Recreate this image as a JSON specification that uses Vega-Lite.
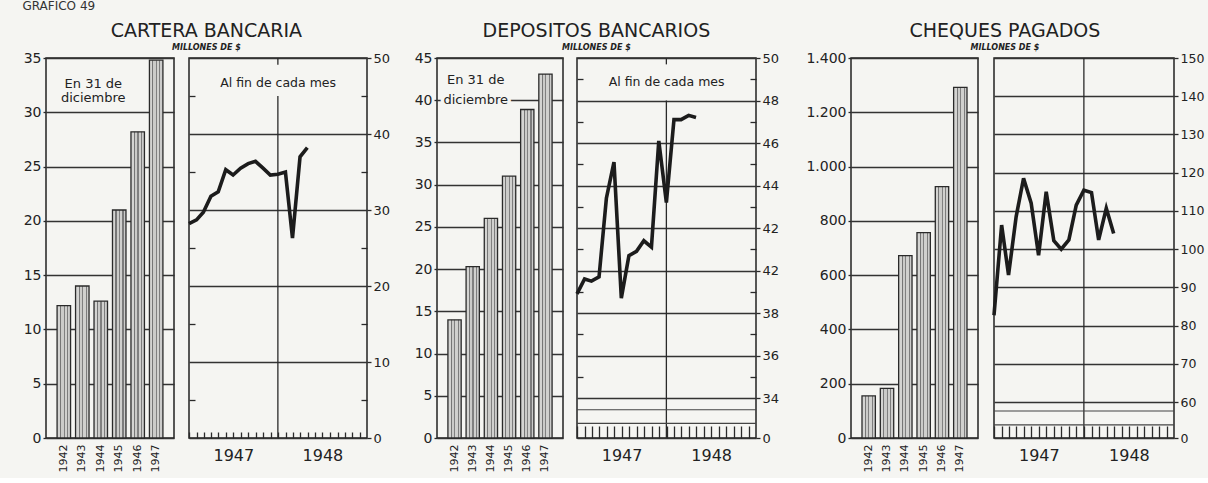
{
  "$schema": "https://vega.github.io/schema/vega-lite/v6.json",
  "background": "#f5f5f2",
  "padding": {"left": 22, "top": 0, "right": 4, "bottom": 5},
  "title": {"text": "GRAFICO 49", "anchor": "start", "fontSize": 12, "font": "DejaVu Sans", "fontWeight": "normal", "color": "#333", "offset": 9},
  "datasets": {
    "cartera_anual": [
      {"anio": "1942", "valor": 12.2}, {"anio": "1943", "valor": 14.0}, {"anio": "1944", "valor": 12.6},
      {"anio": "1945", "valor": 21.0}, {"anio": "1946", "valor": 28.2}, {"anio": "1947", "valor": 34.8}
    ],
    "depositos_anual": [
      {"anio": "1942", "valor": 14.0}, {"anio": "1943", "valor": 20.3}, {"anio": "1944", "valor": 26.0},
      {"anio": "1945", "valor": 31.0}, {"anio": "1946", "valor": 38.9}, {"anio": "1947", "valor": 43.1}
    ],
    "cheques_anual": [
      {"anio": "1942", "valor": 155}, {"anio": "1943", "valor": 183}, {"anio": "1944", "valor": 672},
      {"anio": "1945", "valor": 757}, {"anio": "1946", "valor": 926}, {"anio": "1947", "valor": 1292}
    ],
    "cartera_mensual": [
      {"fecha": "1946-12-31", "valor": 28.2}, {"fecha": "1947-01-31", "valor": 28.7}, {"fecha": "1947-02-28", "valor": 29.7},
      {"fecha": "1947-03-31", "valor": 31.8}, {"fecha": "1947-04-30", "valor": 32.4}, {"fecha": "1947-05-31", "valor": 35.3},
      {"fecha": "1947-06-30", "valor": 34.6}, {"fecha": "1947-07-31", "valor": 35.5}, {"fecha": "1947-08-31", "valor": 36.1},
      {"fecha": "1947-09-30", "valor": 36.4}, {"fecha": "1947-10-31", "valor": 35.5}, {"fecha": "1947-11-30", "valor": 34.6},
      {"fecha": "1947-12-31", "valor": 34.7}, {"fecha": "1948-01-31", "valor": 35.0}, {"fecha": "1948-02-29", "valor": 26.3},
      {"fecha": "1948-03-31", "valor": 37.0}, {"fecha": "1948-04-30", "valor": 38.2}
    ],
    "depositos_mensual": [
      {"fecha": "1946-12-31", "valor": 38.9}, {"fecha": "1947-01-31", "valor": 39.6}, {"fecha": "1947-02-28", "valor": 39.5},
      {"fecha": "1947-03-31", "valor": 39.7}, {"fecha": "1947-04-30", "valor": 43.4}, {"fecha": "1947-05-31", "valor": 45.1},
      {"fecha": "1947-06-30", "valor": 38.7}, {"fecha": "1947-07-31", "valor": 40.7}, {"fecha": "1947-08-31", "valor": 40.9},
      {"fecha": "1947-09-30", "valor": 41.4}, {"fecha": "1947-10-31", "valor": 41.1}, {"fecha": "1947-11-30", "valor": 46.1},
      {"fecha": "1947-12-31", "valor": 43.2}, {"fecha": "1948-01-31", "valor": 47.1}, {"fecha": "1948-02-29", "valor": 47.1},
      {"fecha": "1948-03-31", "valor": 47.3}, {"fecha": "1948-04-30", "valor": 47.2}
    ],
    "cheques_mensual": [
      {"fecha": "1946-12-31", "valor": 82.7}, {"fecha": "1947-01-31", "valor": 106.3}, {"fecha": "1947-02-28", "valor": 93.2},
      {"fecha": "1947-03-31", "valor": 108.5}, {"fecha": "1947-04-30", "valor": 118.5}, {"fecha": "1947-05-31", "valor": 112.0},
      {"fecha": "1947-06-30", "valor": 98.4}, {"fecha": "1947-07-31", "valor": 115.0}, {"fecha": "1947-08-31", "valor": 102.2},
      {"fecha": "1947-09-30", "valor": 100.0}, {"fecha": "1947-10-31", "valor": 102.4}, {"fecha": "1947-11-30", "valor": 111.5},
      {"fecha": "1947-12-31", "valor": 115.4}, {"fecha": "1948-01-31", "valor": 114.8}, {"fecha": "1948-02-29", "valor": 102.4},
      {"fecha": "1948-03-31", "valor": 110.7}, {"fecha": "1948-04-30", "valor": 104.1}
    ]
  },
  "spacing": 0,
  "hconcat": [
    {
      "title": {"text": "CARTERA BANCARIA", "subtitle": "MILLONES DE $"},
      "spacing": 6,
      "hconcat": [
        {
          "width": 128, "height": 380,
          "data": {"name": "cartera_anual"},
          "layer": [
            {
              "mark": {"type": "bar", "stroke": "#2a2a2a", "strokeWidth": 1.3,
                "fill": {"gradient": "linear", "x1": 0, "x2": 1, "y1": 0, "y2": 0,
                  "stops": [{"offset": 0, "color": "#d4d4d2"}, {"offset": 0.22, "color": "#d4d4d2"}, {"offset": 0.22, "color": "#767676"}, {"offset": 0.3, "color": "#767676"}, {"offset": 0.3, "color": "#cbcbc9"}, {"offset": 0.48, "color": "#cbcbc9"}, {"offset": 0.48, "color": "#808080"}, {"offset": 0.56, "color": "#808080"}, {"offset": 0.56, "color": "#d0d0ce"}, {"offset": 0.74, "color": "#d0d0ce"}, {"offset": 0.74, "color": "#7c7c7c"}, {"offset": 0.82, "color": "#7c7c7c"}, {"offset": 0.82, "color": "#cccccb"}, {"offset": 1, "color": "#cccccb"}]}},
              "encoding": {
                "x": {"field": "anio", "type": "ordinal", "scale": {"paddingInner": 0.27, "paddingOuter": 0.6},
                  "axis": {"title": null, "labelAngle": -90, "ticks": false, "domain": false, "labelFontSize": 11, "labelPadding": 6}},
                "y": {"field": "valor", "type": "quantitative", "scale": {"domain": [0, 35], "nice": false},
                  "axis": {"title": null, "values": [0, 5, 10, 15, 20, 25, 30, 35], "grid": true, "tickSize": 3, "domain": false, "labelPadding": 2}}
              }
            },
            {
              "data": {"values": [{}]},
              "mark": {"type": "text", "fontSize": 13, "fontWeight": "normal", "lineHeight": 14, "align": "center", "baseline": "middle", "dx": 11},
              "encoding": {"x": {"datum": "1943"}, "y": {"datum": 32.6}, "text": {"value": ["En 31  de", "diciembre"]}}
            }
          ]
        },
        {
          "width": 178, "height": 380,
          "data": {"name": "cartera_mensual"},
          "resolve": {"axis": {"y": "independent"}},
          "layer": [
            {
              "data": {"values": [{}]},
              "mark": {"type": "rule", "stroke": "#2a2a2a", "strokeWidth": 1.3},
              "encoding": {
                "x": {"datum": {"year": 1947, "month": 12, "date": 31, "utc": true}, "type": "temporal"},
                "y": {"datum": 0, "type": "quantitative", "scale": {"domain": [0, 50], "nice": false},
                  "axis": {"orient": "left", "values": [5, 15, 25, 35, 45], "tickSize": -6, "labels": false, "domain": false, "grid": false, "title": null}},
                "y2": {"datum": 45}
              }
            },
            {
              "data": {"values": [{}]},
              "mark": {"type": "rule", "stroke": "#2a2a2a", "strokeWidth": 1.3},
              "encoding": {
                "x": {"datum": {"year": 1947, "month": 12, "date": 31, "utc": true}, "type": "temporal"},
                "y": {"datum": 49.1, "type": "quantitative", "axis": null},
                "y2": {"datum": 50}
              }
            },
            {
              "data": {"values": [{}]},
              "mark": {"type": "text", "fontSize": 12.5, "fontWeight": "normal"},
              "encoding": {
                "x": {"datum": {"year": 1948, "month": 1, "date": 1, "utc": true}, "type": "temporal"},
                "y": {"datum": 46.7, "type": "quantitative",
                  "axis": {"orient": "right", "values": [5, 15, 25, 35, 45], "tickSize": -6, "labels": false, "domain": false, "grid": false, "title": null}},
                "text": {"value": "Al fin de cada mes"}
              }
            },
            {
              "mark": {"type": "line", "stroke": "#1c1c1c", "strokeWidth": 3.6},
              "encoding": {
                "x": {"field": "fecha", "type": "temporal",
                  "scale": {"type": "utc", "domain": [{"year": 1946, "month": 12, "date": 31, "utc": true}, {"year": 1948, "month": 12, "date": 31, "utc": true}]},
                  "axis": {"title": null, "tickCount": {"interval": "month", "step": 1}, "tickSize": -6, "domain": false, "grid": false, "labelOverlap": false,
                    "labelExpr": "utcmonth(datum.value) == 6 ? utcFormat(datum.value, '%Y') : ''", "labelFontSize": 16, "labelPadding": 15}},
                "y": {"field": "valor", "type": "quantitative",
                  "axis": {"orient": "right", "title": null, "values": [0, 10, 20, 30, 40, 50], "grid": true, "tickSize": 4, "domain": false, "labelPadding": 2, "labelFontSize": 13}}
              }
            }
          ]
        }
      ]
    },
    {
      "width": 22, "height": 380, "data": {"values": []}, "mark": "point", "view": {"stroke": null}
    },
    {
      "title": {"text": "DEPOSITOS BANCARIOS", "subtitle": "MILLONES DE $"},
      "spacing": 5,
      "hconcat": [
        {
          "width": 126, "height": 380,
          "data": {"name": "depositos_anual"},
          "layer": [
            {
              "mark": {"type": "bar", "stroke": "#2a2a2a", "strokeWidth": 1.3,
                "fill": {"gradient": "linear", "x1": 0, "x2": 1, "y1": 0, "y2": 0,
                  "stops": [{"offset": 0, "color": "#d4d4d2"}, {"offset": 0.22, "color": "#d4d4d2"}, {"offset": 0.22, "color": "#767676"}, {"offset": 0.3, "color": "#767676"}, {"offset": 0.3, "color": "#cbcbc9"}, {"offset": 0.48, "color": "#cbcbc9"}, {"offset": 0.48, "color": "#808080"}, {"offset": 0.56, "color": "#808080"}, {"offset": 0.56, "color": "#d0d0ce"}, {"offset": 0.74, "color": "#d0d0ce"}, {"offset": 0.74, "color": "#7c7c7c"}, {"offset": 0.82, "color": "#7c7c7c"}, {"offset": 0.82, "color": "#cccccb"}, {"offset": 1, "color": "#cccccb"}]}},
              "encoding": {
                "x": {"field": "anio", "type": "ordinal", "scale": {"paddingInner": 0.27, "paddingOuter": 0.6},
                  "axis": {"title": null, "labelAngle": -90, "ticks": false, "domain": false, "labelFontSize": 11, "labelPadding": 6}},
                "y": {"field": "valor", "type": "quantitative", "scale": {"domain": [0, 45], "nice": false},
                  "axis": {"title": null, "values": [0, 5, 10, 15, 20, 25, 30, 35, 40, 45], "grid": true, "tickSize": 3, "domain": false, "labelPadding": 2}}
              }
            },
            {
              "data": {"values": [{}]},
              "mark": {"type": "text", "fontSize": 13, "fontWeight": "normal", "lineHeight": 20, "align": "center", "baseline": "middle", "dx": 3, "stroke": "#f5f5f2", "strokeWidth": 7},
              "encoding": {"x": {"datum": "1943"}, "y": {"datum": 42.4}, "text": {"value": ["En 31 de", "diciembre"]}}
            },
            {
              "data": {"values": [{}]},
              "mark": {"type": "text", "fontSize": 13, "fontWeight": "normal", "lineHeight": 20, "align": "center", "baseline": "middle", "dx": 3},
              "encoding": {"x": {"datum": "1943"}, "y": {"datum": 42.4}, "text": {"value": ["En 31 de", "diciembre"]}}
            }
          ]
        },
        {
          "width": 179, "height": 380,
          "data": {"name": "depositos_mensual"},
          "resolve": {"axis": {"y": "independent"}},
          "layer": [
            {
              "data": {"values": [{}]},
              "mark": {"type": "rule", "stroke": "#2a2a2a", "strokeWidth": 1.3},
              "encoding": {
                "x": {"datum": {"year": 1947, "month": 12, "date": 31, "utc": true}, "type": "temporal"},
                "y": {"datum": 0, "type": "quantitative", "scale": {"domain": [0, 34, 50], "range": [380, 340, 0], "nice": false, "zero": false},
                  "axis": {"orient": "left", "values": [35, 37, 39, 41, 43, 45, 47, 49], "tickSize": -6, "labels": false, "domain": false, "grid": false, "title": null}},
                "y2": {"datum": 48}
              }
            },
            {
              "data": {"values": [{}]},
              "mark": {"type": "rule", "stroke": "#2a2a2a", "strokeWidth": 1.3},
              "encoding": {
                "x": {"datum": {"year": 1947, "month": 12, "date": 31, "utc": true}, "type": "temporal"},
                "y": {"datum": 49.7, "type": "quantitative", "axis": null},
                "y2": {"datum": 50}
              }
            },
            {
              "data": {"values": [{}]},
              "mark": {"type": "text", "fontSize": 12.5, "fontWeight": "normal"},
              "encoding": {
                "x": {"datum": {"year": 1948, "month": 1, "date": 1, "utc": true}, "type": "temporal"},
                "y": {"datum": 48.85, "type": "quantitative",
                  "axis": {"orient": "right", "values": [35, 37, 39, 41, 43, 45, 47, 49], "tickSize": -6, "labels": false, "domain": false, "grid": false, "title": null}},
                "text": {"value": "Al fin de cada mes"}
              }
            },
            {
              "data": {"values": [{}]},
              "mark": {"type": "rule", "stroke": "#444", "strokeWidth": 1.2},
              "encoding": {"y": {"datum": 24, "type": "quantitative", "axis": null}}
            },
            {
              "data": {"values": [{}]},
              "mark": {"type": "rule", "stroke": "#444", "strokeWidth": 1.2},
              "encoding": {"y": {"datum": 12.5, "type": "quantitative", "axis": null}}
            },
            {
              "mark": {"type": "line", "stroke": "#1c1c1c", "strokeWidth": 3.6},
              "encoding": {
                "x": {"field": "fecha", "type": "temporal",
                  "scale": {"type": "utc", "domain": [{"year": 1946, "month": 12, "date": 31, "utc": true}, {"year": 1948, "month": 12, "date": 31, "utc": true}]},
                  "axis": {"title": null, "tickCount": {"interval": "month", "step": 1}, "tickSize": -12, "domain": false, "grid": false, "labelOverlap": false,
                    "labelExpr": "utcmonth(datum.value) == 6 ? utcFormat(datum.value, '%Y') : ''", "labelFontSize": 16, "labelPadding": 21}},
                "y": {"field": "valor", "type": "quantitative",
                  "axis": {"orient": "right", "title": null, "values": [0, 34, 36, 38, 40, 42, 44, 46, 48, 50], "grid": true, "tickSize": 4, "domain": false, "labelPadding": 2, "labelFontSize": 13,
                    "labelExpr": "datum.value == 40 ? '42' : datum.label"}}
              }
            }
          ]
        }
      ]
    },
    {
      "width": 25, "height": 380, "data": {"values": []}, "mark": "point", "view": {"stroke": null}
    },
    {
      "title": {"text": "CHEQUES PAGADOS", "subtitle": "MILLONES DE $"},
      "spacing": 7,
      "hconcat": [
        {
          "width": 127, "height": 380,
          "data": {"name": "cheques_anual"},
          "mark": {"type": "bar", "stroke": "#2a2a2a", "strokeWidth": 1.3,
            "fill": {"gradient": "linear", "x1": 0, "x2": 1, "y1": 0, "y2": 0,
              "stops": [{"offset": 0, "color": "#d4d4d2"}, {"offset": 0.22, "color": "#d4d4d2"}, {"offset": 0.22, "color": "#767676"}, {"offset": 0.3, "color": "#767676"}, {"offset": 0.3, "color": "#cbcbc9"}, {"offset": 0.48, "color": "#cbcbc9"}, {"offset": 0.48, "color": "#808080"}, {"offset": 0.56, "color": "#808080"}, {"offset": 0.56, "color": "#d0d0ce"}, {"offset": 0.74, "color": "#d0d0ce"}, {"offset": 0.74, "color": "#7c7c7c"}, {"offset": 0.82, "color": "#7c7c7c"}, {"offset": 0.82, "color": "#cccccb"}, {"offset": 1, "color": "#cccccb"}]}},
          "encoding": {
            "x": {"field": "anio", "type": "ordinal", "scale": {"paddingInner": 0.27, "paddingOuter": 0.6},
              "axis": {"title": null, "labelAngle": -90, "ticks": false, "domain": false, "labelFontSize": 11, "labelPadding": 6}},
            "y": {"field": "valor", "type": "quantitative", "scale": {"domain": [0, 1400], "nice": false},
              "axis": {"title": null, "values": [0, 200, 400, 600, 800, 1000, 1200, 1400], "grid": true, "tickSize": 3, "domain": false, "labelPadding": 2,
                "labelExpr": "replace(format(datum.value, ',d'), ',', '.')"}}
          }
        },
        {
          "width": 180, "height": 380,
          "data": {"name": "cheques_mensual"},
          "resolve": {"axis": {"y": "independent"}},
          "layer": [
            {
              "data": {"values": [{}]},
              "mark": {"type": "rule", "stroke": "#2a2a2a", "strokeWidth": 1.3},
              "encoding": {
                "x": {"datum": {"year": 1947, "month": 12, "date": 31, "utc": true}, "type": "temporal"},
                "y": {"datum": 0, "type": "quantitative", "scale": {"domain": [0, 60, 150], "range": [380, 344, 0], "nice": false, "zero": false}, "axis": null},
                "y2": {"datum": 150}
              }
            },
            {
              "data": {"values": [{}]},
              "mark": {"type": "rule", "stroke": "#444", "strokeWidth": 1.2},
              "encoding": {"y": {"datum": 45, "type": "quantitative", "axis": null}}
            },
            {
              "data": {"values": [{}]},
              "mark": {"type": "rule", "stroke": "#444", "strokeWidth": 1.2},
              "encoding": {"y": {"datum": 22, "type": "quantitative", "axis": null}}
            },
            {
              "mark": {"type": "line", "stroke": "#1c1c1c", "strokeWidth": 3.6},
              "encoding": {
                "x": {"field": "fecha", "type": "temporal",
                  "scale": {"type": "utc", "domain": [{"year": 1946, "month": 12, "date": 31, "utc": true}, {"year": 1948, "month": 12, "date": 31, "utc": true}]},
                  "axis": {"title": null, "tickCount": {"interval": "month", "step": 1}, "tickSize": -12, "domain": false, "grid": false, "labelOverlap": false,
                    "labelExpr": "utcmonth(datum.value) == 6 ? utcFormat(datum.value, '%Y') : ''", "labelFontSize": 16, "labelPadding": 21}},
                "y": {"field": "valor", "type": "quantitative",
                  "axis": {"orient": "right", "title": null, "values": [0, 60, 70, 80, 90, 100, 110, 120, 130, 140, 150], "grid": true, "tickSize": 4, "domain": false, "labelPadding": 2, "labelFontSize": 12.5}}
              }
            }
          ]
        }
      ]
    }
  ],
  "config": {
    "font": "DejaVu Sans",
    "view": {"stroke": "#222", "strokeWidth": 1.5},
    "axis": {"labelFont": "DejaVu Sans", "labelFontSize": 14, "labelColor": "#222", "tickColor": "#2a2a2a", "tickWidth": 1.3, "gridColor": "#333", "gridWidth": 1.3, "gridOpacity": 1},
    "text": {"font": "DejaVu Sans", "color": "#222"},
    "title": {"anchor": "middle", "font": "DejaVu Sans", "fontSize": 19, "fontWeight": "normal", "color": "#222", "subtitleFont": "DejaVu Sans", "subtitleFontSize": 8, "subtitleFontStyle": "italic", "subtitleFontWeight": "bold", "subtitleColor": "#222", "subtitlePadding": 3, "offset": -2}
  }
}
